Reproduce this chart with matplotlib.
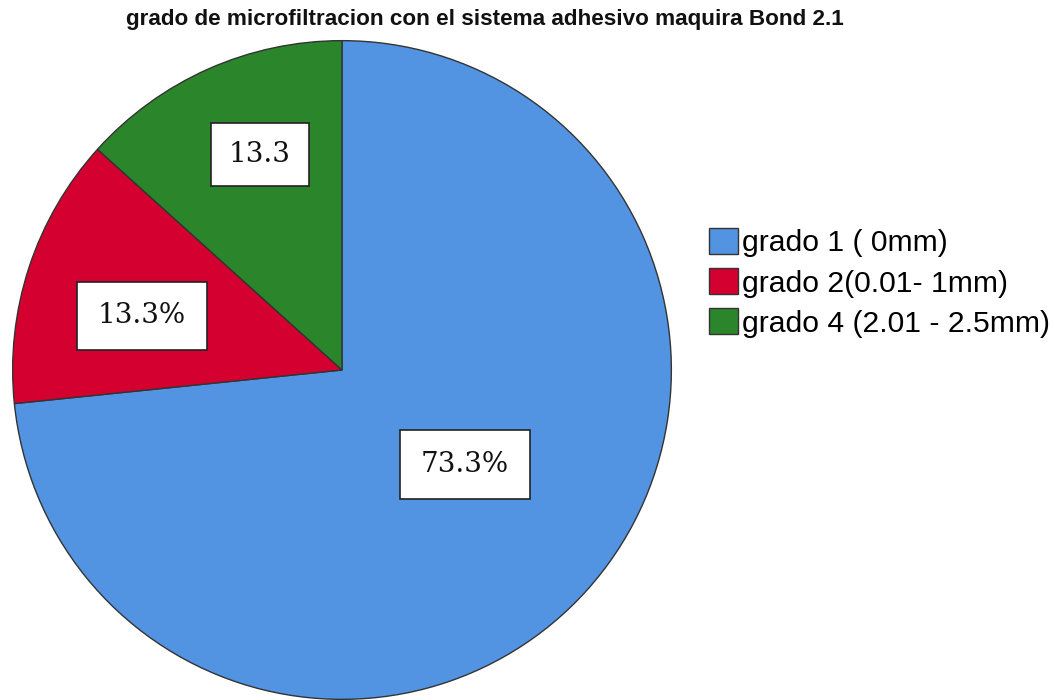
import numpy as np
import matplotlib
matplotlib.use("Agg")
import matplotlib.pyplot as plt

# data
categories = ["grado 1 ( 0mm)", "grado 2(0.01- 1mm)", "grado 4 (2.01 - 2.5mm)"]
percents = [73.3, 13.3, 13.3]
labels = ["73.3%", "13.3%", "13.3"]
colors = ["#5294E2", "#D4002F", "#2B862B"]

# label placement (fraction of radius, angle shift in degrees)
label_dist = [0.47, 0.63, 0.70]
label_shift = [4.5, 3.0, -3.0]

fig = plt.figure(figsize=(10.54, 7.0), dpi=100)
W, H = 1054, 700
cx, cy, r = 342, 370, 331
ax = fig.add_axes([(cx - r) / W, (H - cy - r) / H, 2 * r / W, 2 * r / H])

wedges, _ = ax.pie(percents, colors=colors, startangle=90, counterclock=False,
                   wedgeprops=dict(edgecolor="#333333", linewidth=1.0),
                   radius=1.0)
ax.set_xlim(-1.005, 1.005)
ax.set_ylim(-1.005, 1.005)
ax.set_aspect("equal")
ax.axis("off")

# labels in white boxes
for w, lab, d, s in zip(wedges, labels, label_dist, label_shift):
    mid = np.deg2rad((w.theta1 + w.theta2) / 2 + s)
    pad = 0.75 if lab != "13.3" else 0.65
    ax.text(d * np.cos(mid), d * np.sin(mid), lab, ha="center", va="center",
            fontsize=20, family="DejaVu Serif", color="#111111",
            bbox=dict(boxstyle="square,pad=%.2f" % pad, fc="white", ec="#222222", lw=1.2))

# legend
leg = fig.legend(wedges, categories, loc="upper left",
                 bbox_to_anchor=(709 / W, 1 - 228 / H), frameon=False,
                 prop={"family": "Liberation Sans", "size": 21.7},
                 handlelength=0.96, handleheight=0.95, handletextpad=0.12,
                 labelspacing=0.36, borderpad=0, borderaxespad=0)

fig.text(485 / W, 1 - 20 / H,
         "grado de microfiltracion con el sistema adhesivo maquira Bond 2.1",
         ha="center", va="center", fontsize=16.2, fontweight="bold",
         family="Liberation Sans", color="#111111")

fig.savefig("out.png", dpi=100)
